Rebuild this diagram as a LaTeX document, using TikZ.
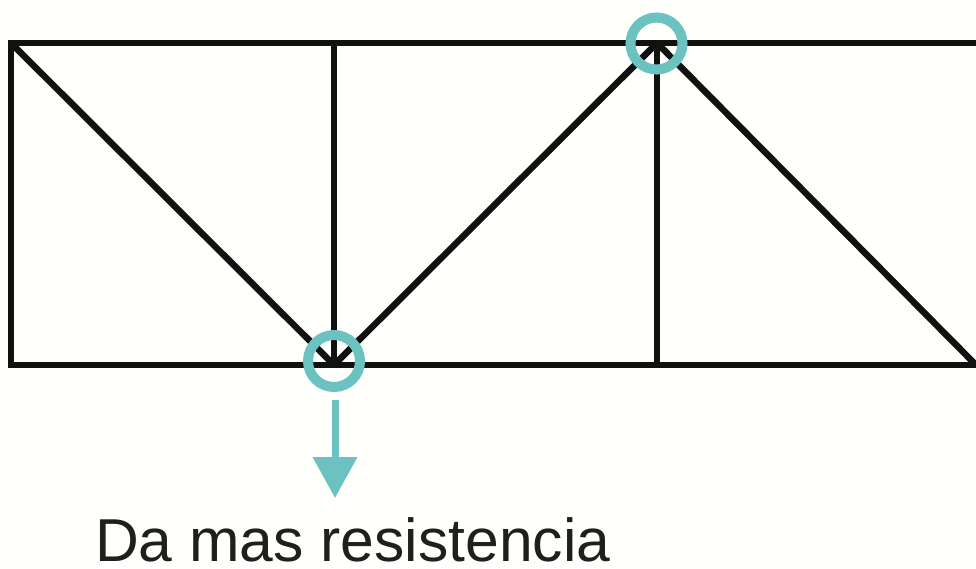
\documentclass[tikz,border=0pt]{standalone}
\usepackage{fontspec}
\setmainfont{Liberation Sans}
\usetikzlibrary{arrows.meta}
\definecolor{teal1}{HTML}{6BC2C0}
\definecolor{bar}{HTML}{111111}
\definecolor{paper}{HTML}{FFFFFC}
\tikzset{
 member/.style={draw=bar,line width=6.5pt,line cap=butt},
 ring/.style={draw=teal1,line width=10pt,circle,minimum size=52pt,inner sep=0pt,fill=none},
 force/.style={draw=teal1,line width=7pt,-{Triangle[length=41pt,width=43pt]}},
 label/.style={font=\fontsize{60.6}{60.6}\selectfont,text=black!88,anchor=base west,inner sep=0pt}
}
\begin{document}
\begin{tikzpicture}[x=1pt,y=-1pt]
\path[use as bounding box,fill=paper] (0,0) rectangle (976,568);
\coordinate (TL) at (11,43);
\coordinate (T1) at (334,43);
\coordinate (T2) at (657,43);
\coordinate (TR) at (976,43);
\coordinate (BL) at (11,365);
\coordinate (B1) at (334,365);
\coordinate (B2) at (657,365);
\coordinate (BR) at (976,365);
\draw[member] (TL) -- (TR);
\draw[member] (BL) -- (BR);
\draw[member] (11,39.75) -- (11,368.25);
\draw[member] (T1) -- (B1);
\draw[member] (T2) -- (B2);
\draw[member] (TL) -- (B1);
\draw[member] (B1) -- (T2);
\draw[member] (T2) -- (BR);
\node[ring] (R1) at (334,361) {};
\node[ring] (R2) at (656.5,43.5) {};
\coordinate (FS) at (335,400);
\coordinate (FE) at (335,498);
\draw[force] (FS) -- (FE);
\node[label] (txt) at (95,561) {Da mas resistencia};
\end{tikzpicture}
\end{document}
